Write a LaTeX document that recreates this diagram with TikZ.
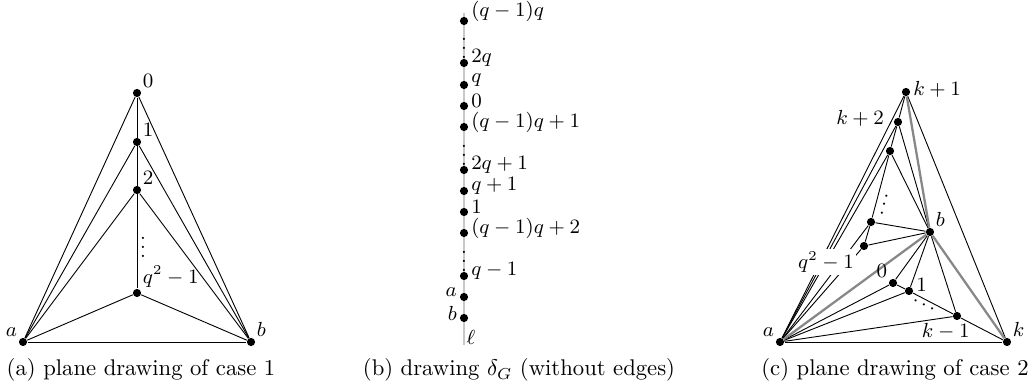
\documentclass[tikz,border=0pt]{standalone}
\usepackage{amsmath}
\usepackage{tikz}
\usetikzlibrary{positioning,backgrounds}
\definecolor{eGray}{RGB}{135,135,135}
\definecolor{lGray}{RGB}{200,200,200}
\tikzset{
  vtx/.style={circle, fill=black, inner sep=0pt, minimum size=3.6pt},
  lbl/.style={font=\small, inner sep=1pt},
  lbr/.style={lbl, yshift=2.2pt},
  dts/.style={font=\small, inner sep=0pt},
  gedge/.style={draw=black, line width=0.4pt},
  hedge/.style={draw=eGray, line width=1pt},
  lineaxis/.style={draw=lGray, line width=1.1pt},
  captxt/.style={anchor=base, inner sep=0pt},
}

\begin{document}
\begin{tikzpicture}[x=0.441pt, y=-0.441pt]
  \useasboundingbox (0,0) rectangle (1031,391);

  % (a) case 1
  \node[vtx, label={[lbl]above right:$0$}] (a0) at (137,93) {};
  \node[vtx, label={[lbl]above right:$1$}] (a1) at (137,142) {};
  \node[vtx, label={[lbl]above right:$2$}] (a2) at (137,190) {};
  \node[vtx, label={[lbl]above right:$q^2-1$}] (aq) at (137,293) {};
  \node[vtx, label={[lbl]above left:$a$}] (aa) at (23,342) {};
  \node[vtx, label={[lbl]above right:$b$}] (ab) at (251,342) {};
  \node[dts] (adots) at (143,241) {$\vdots$};
  \begin{scope}[on background layer]
    \draw[gedge] (a0) -- (aq);
    \foreach \v in {a0,a1,a2,aq} \draw[gedge] (aa) -- (\v) -- (ab);
    \draw[gedge] (aa) -- (ab);
  \end{scope}
  \node[captxt] (capa) at (141,376) {(a) plane drawing of case 1};

  % (b) order on the line
  \coordinate (btop) at (464,13);
  \coordinate[label={[lbl, yshift=3.5pt]right:$\ell$}] (bbot) at (464,345);
  \node[vtx, label={[lbr, yshift=2pt]right:$(q-1)q$}] (p0) at (464,21) {};
  \foreach \n/\y/\t in {p1/63/2q, p2/85/q, p3/106/0, p4/127/(q-1)q+1,
                        p5/170/2q+1, p6/191/q+1, p7/212/1, p8/233/(q-1)q+2,
                        p9/276/q-1}
    \node[vtx, label={[lbr]right:$\t$}] (\n) at (464,\y) {};
  \node[vtx, label={[lbr]left:$a$}] (pa) at (464,297) {};
  \node[vtx, label={[lbr]left:$b$}] (pb) at (464,318) {};
  \foreach \n/\y in {bd1/42, bd2/148.5, bd3/254.5}
    \node[dts] (\n) at (464,\y) {$\vdots$};
  \begin{scope}[on background layer]
    \draw[lineaxis] (btop) -- (bbot);
  \end{scope}
  \node[captxt] (capb) at (519,376) {(b) drawing $\delta_G$ (without edges)};

  % (c) case 2
  \node[vtx, label={[lbl, yshift=1.3pt]right:$k+1$}] (ckp1) at (906,92) {};
  \node[vtx, label={[lbl, label distance=3pt, yshift=1.8pt]left:$k+2$}] (ckp2) at (898,122) {};
  \node[vtx] (cu) at (890,151) {};
  \node[vtx] (cv) at (871,222) {};
  \node[vtx] (cq) at (864,246) {};
  \node[vtx, label={[lbl]above right:$b$}] (cb) at (930,232) {};
  \node[vtx, label={[lbl]above left:$a$}] (ca) at (780,342) {};
  \node[vtx, label={[lbl]above right:$k$}] (ck) at (1007,342) {};
  \node[vtx, label={[lbl]above left:$0$}] (c0) at (893,283) {};
  \node[vtx, label={[lbl, yshift=2.5pt]right:$1$}] (c1) at (909,291) {};
  \node[vtx, label={[lbl, xshift=-5pt]below:$k-1$}] (ckm1) at (957,316) {};
  \node[dts, rotate=-15] (cvdots) at (886,198) {$\vdots$};
  \node[dts, rotate=-27] (chdots) at (924,305) {$\ldots$};
  \begin{scope}[on background layer]
    \draw[gedge] (ckp1) -- (ck);
    \foreach \v in {ckp1,ckp2,cu,cv,cq,c0,c1,ckm1} \draw[gedge] (ca) -- (\v);
    \foreach \v in {ckp2,cu,cv,cq,c0,c1,ckm1} \draw[gedge] (cb) -- (\v);
    \draw[gedge] (ckp1) -- (ckp2) -- (cu) -- (cv) -- (cq);
    \draw[gedge] (c0) -- (c1) -- (ckm1) -- (ck);
    \draw[gedge] (ca) -- (ck);
    \draw[hedge] (ckp1) -- (cb) -- (ca);
    \draw[hedge] (cb) -- (ck);
  \end{scope}
  \node[lbl, fill=white] (cqlbl) at (826,262) {$q^2-1$};
  \node[captxt] (capc) at (895,376) {(c) plane drawing of case 2};
\end{tikzpicture}
\end{document}
